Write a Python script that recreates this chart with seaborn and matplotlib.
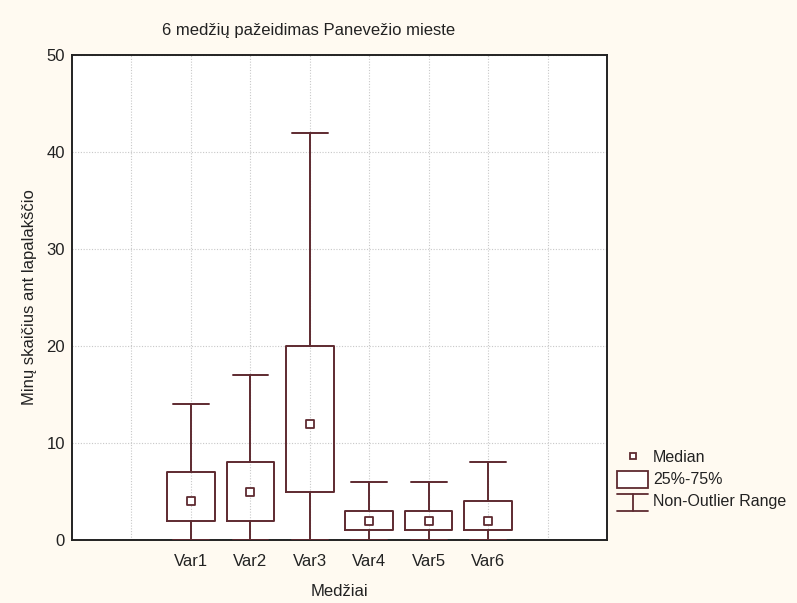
import matplotlib
matplotlib.use("Agg")
import matplotlib.pyplot as plt
import seaborn as sns
import pandas as pd
from matplotlib.legend_handler import HandlerBase
from matplotlib.patches import Rectangle
from matplotlib.lines import Line2D

# ---- data ----
categories = ["Var1", "Var2", "Var3", "Var4", "Var5", "Var6"]
medians = [4, 5, 12, 2, 2, 2]
q1 = [2, 2, 5, 1, 1, 1]
q3 = [7, 8, 20, 3, 3, 4]
whisker_low = [0, 0, 0, 0, 0, 0]
whisker_high = [14, 17, 42, 6, 6, 8]

title = "6 medžių pažeidimas Panevežio mieste"
xlabel = "Medžiai"
ylabel = "Minų skaičius ant lapalakščio"

sns.set_theme(style="white")
plt.rcParams['font.family'] = ['Liberation Sans', 'DejaVu Sans']

BOX = "#5e2a30"
BG = "#fffaf1"
TXT = "#222222"
FS = 12

fig = plt.figure(figsize=(7.97, 6.03), dpi=100, facecolor=BG)
ax = fig.add_axes([72/797, 1-540/603, (607-72)/797, (540-55)/603])
ax.set_facecolor("white")

positions = list(range(2, 2 + len(categories)))
stats = []
for i, c in enumerate(categories):
    stats.append(dict(label=c, med=medians[i], q1=q1[i], q3=q3[i],
                      whislo=whisker_low[i], whishi=whisker_high[i], fliers=[]))

ax.bxp(stats, positions=positions, widths=0.8, showfliers=False,
       patch_artist=False,
       boxprops=dict(color=BOX, linewidth=1.4),
       whiskerprops=dict(color=BOX, linewidth=1.4),
       capprops=dict(color=BOX, linewidth=1.4),
       medianprops=dict(linewidth=0),
       capwidths=0.6, zorder=3)

df = pd.DataFrame({"pos": positions, "median": medians})
sns.scatterplot(data=df, x="pos", y="median", marker="s", s=28,
                facecolor="white", edgecolor=BOX, linewidth=1.3, ax=ax, zorder=4)

ax.set_xlim(0, 9)
ax.set_ylim(0, 50)
ax.set_xticks(positions)
ax.set_xticklabels(categories)
ax.set_yticks([0, 10, 20, 30, 40, 50])
ax.set_xticks([1, 8], minor=True)
grid_kw = dict(color="#c8c8c8", linestyle=(0, (1, 1.5)), linewidth=0.8)
ax.grid(True, which="both", axis="x", **grid_kw)
ax.grid(True, which="major", axis="y", **grid_kw)
ax.set_axisbelow(True)
ax.tick_params(axis="both", which="major", labelsize=FS, colors=TXT,
               length=3, width=0.8)
ax.tick_params(axis="y", pad=2)
ax.tick_params(axis="x", which="major", length=0, pad=10)
ax.tick_params(axis="x", which="minor", length=0)
for sp in ax.spines.values():
    sp.set_color(TXT)
    sp.set_linewidth(1.4)

ax.set_xlabel(xlabel, fontsize=FS, color=TXT, labelpad=11)
ax.set_ylabel(ylabel, fontsize=FS, color=TXT, labelpad=7)
fig.text(309/797, 1-30/603, title, ha="center", va="center", fontsize=FS, color=TXT)


class BoxHandler(HandlerBase):
    def create_artists(self, legend, orig_handle, xdescent, ydescent, width, height, fontsize, trans):
        r = Rectangle((0, -0.35 * height), width, height * 1.55,
                      facecolor="white", edgecolor=BOX, linewidth=1.3, transform=trans)
        return [r]


class WhiskerHandler(HandlerBase):
    def create_artists(self, legend, orig_handle, xdescent, ydescent, width, height, fontsize, trans):
        top = height * 1.1
        bot = -0.45 * height
        l1 = Line2D([0, width], [top, top], color=BOX, linewidth=1.3, transform=trans)
        l2 = Line2D([width / 2, width / 2], [top, bot], color=BOX, linewidth=1.3, transform=trans)
        l3 = Line2D([0, width], [bot, bot], color=BOX, linewidth=1.3, transform=trans)
        return [l1, l2, l3]


class MarkerHandler(HandlerBase):
    def create_artists(self, legend, orig_handle, xdescent, ydescent, width, height, fontsize, trans):
        m = Line2D([width / 2], [height / 2], marker="s", markersize=5, markerfacecolor="white",
                   markeredgecolor=BOX, markeredgewidth=1.3, linestyle="none", transform=trans)
        return [m]


h_med = object()
h_box = Rectangle((0, 0), 1, 1)
h_wh = Line2D([], [])
leg = fig.legend([h_med, h_box, h_wh], ["Median", "25%-75%", "Non-Outlier Range"],
                 handler_map={h_med: MarkerHandler(), Rectangle: BoxHandler(), Line2D: WhiskerHandler()},
                 loc="upper left", bbox_to_anchor=(617/797, 1-450/603), frameon=False,
                 fontsize=11.5, handlelength=1.95, handletextpad=0.3, labelspacing=0.45,
                 borderpad=0, borderaxespad=0)
for t in leg.get_texts():
    t.set_color(TXT)

fig.savefig("out.png", dpi=100, facecolor=BG)
